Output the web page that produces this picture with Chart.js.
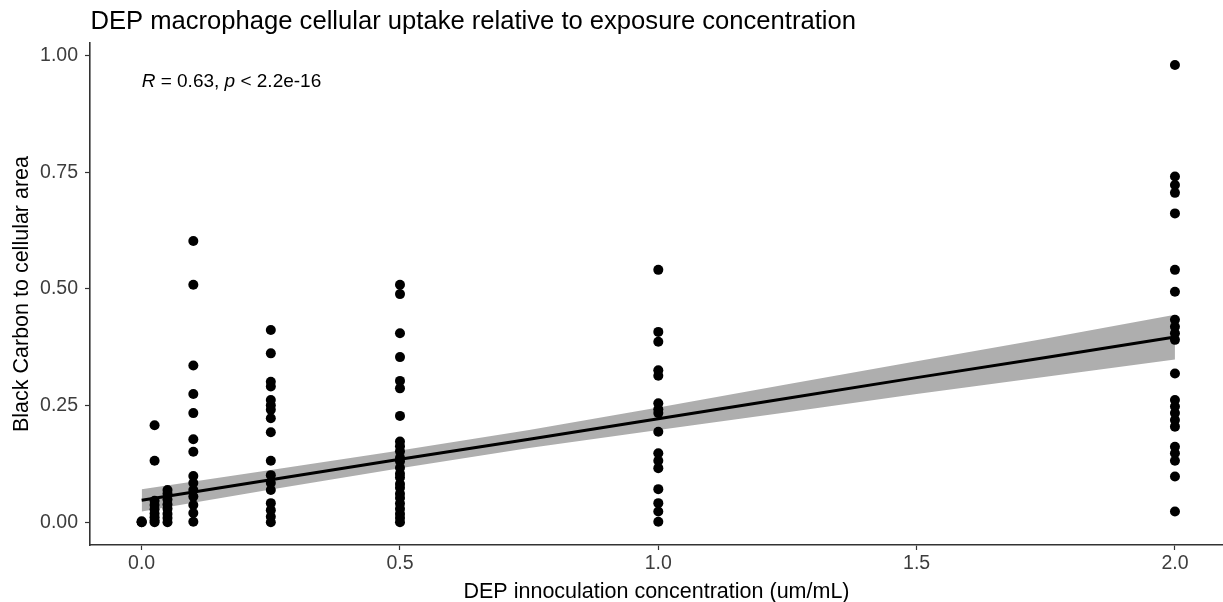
<!DOCTYPE html>
<html>
<head>
<meta charset="utf-8">
<script src="https://cdn.jsdelivr.net/npm/chart.js@4.4.1/dist/chart.umd.min.js"></script>
<style>
html,body{margin:0;padding:0;background:#fff;}
#wrap{width:1223px;height:602px;position:relative;}
</style>
</head>
<body>
<div id="wrap"><canvas id="c"></canvas></div>
<script>
// ---- text ----
const titleText = "DEP macrophage cellular uptake relative to exposure concentration";
const xAxisTitle = "DEP innoculation concentration (um/mL)";
const yAxisTitle = "Black Carbon to cellular area";
const annotationParts = [["R", true], [" = 0.63, ", false], ["p", true], [" < 2.2e-16", false]];
const annotationX = 0;
const annotationY = 0.932;

// ---- ticks ----
const xTickValues = [0, 0.5, 1.0, 1.5, 2.0];
const yTickValues = [0, 0.25, 0.5, 0.75, 1.0];

// ---- data: concentration levels and uptake per level ----
const concentrations = [0, 0.025, 0.05, 0.1, 0.25, 0.5, 1.0, 2.0];
const uptake_0     = [0, 0, 0.002];
const uptake_0025  = [0.208, 0.132, 0.046, 0.037, 0.028, 0.019, 0.011, 0.004, 0];
const uptake_005   = [0.069, 0.061, 0.049, 0.038, 0.029, 0.018, 0.009, 0];
const uptake_01    = [0.603, 0.509, 0.336, 0.275, 0.234, 0.178, 0.151, 0.099, 0.084, 0.069, 0.055, 0.037, 0.020, 0.001];
const uptake_025   = [0.412, 0.362, 0.301, 0.291, 0.262, 0.251, 0.241, 0.223, 0.193, 0.132, 0.101, 0.084, 0.069, 0.041, 0.026, 0.012, 0];
const uptake_05    = [0.509, 0.489, 0.405, 0.354, 0.303, 0.287, 0.228, 0.173, 0.163, 0.152, 0.138, 0.131, 0.117, 0.104, 0.096, 0.082, 0.074, 0.061, 0.052, 0.040, 0.029, 0.018, 0.009, 0];
const uptake_1     = [0.541, 0.408, 0.387, 0.326, 0.314, 0.255, 0.242, 0.234, 0.194, 0.148, 0.132, 0.116, 0.071, 0.041, 0.023, 0.001];
const uptake_2     = [0.980, 0.741, 0.723, 0.706, 0.662, 0.541, 0.494, 0.434, 0.419, 0.405, 0.391, 0.319, 0.262, 0.248, 0.234, 0.219, 0.205, 0.162, 0.148, 0.132, 0.098, 0.023];
const uptakeGroups = [uptake_0, uptake_0025, uptake_005, uptake_01, uptake_025, uptake_05, uptake_1, uptake_2];

// ---- linear fit and confidence band ----
const fitX      = [0, 0.25, 0.5, 0.75, 1.0, 1.25, 1.5, 1.75, 2.0];
const fitY      = [0.047, 0.091, 0.135, 0.178, 0.222, 0.266, 0.310, 0.353, 0.397];
const bandUpper = [0.071, 0.112, 0.154, 0.198, 0.246, 0.296, 0.345, 0.394, 0.445];
const bandLower = [0.023, 0.070, 0.116, 0.159, 0.198, 0.236, 0.275, 0.312, 0.349];

// ---- build ----
const FONT = "'Liberation Sans', Arial, Helvetica, sans-serif";
const points = [];
concentrations.forEach((c, i) => uptakeGroups[i].forEach(v => points.push({x: c, y: v})));
const toXY = (xs, ys) => xs.map((x, i) => ({x: x, y: ys[i]}));

const textPlugin = {
  id: 'texts',
  afterDraw(chart) {
    const ctx = chart.ctx;
    ctx.save();
    ctx.fillStyle = '#000';
    ctx.textBaseline = 'alphabetic';
    ctx.textAlign = 'left';
    ctx.font = "25.6px " + FONT;
    ctx.fillText(titleText, chart.chartArea.left + 0.5, 29);
    let x = chart.scales.x.getPixelForValue(annotationX);
    const y = chart.scales.y.getPixelForValue(annotationY);
    annotationParts.forEach(([t, it]) => {
      ctx.font = (it ? "italic " : "") + "19px " + FONT;
      ctx.fillText(t, x, y);
      x += ctx.measureText(t).width;
    });
    ctx.restore();
  }
};

new Chart(document.getElementById('c'), {
  data: {
    datasets: [
      { type: 'line', data: toXY(fitX, bandUpper), fill: '+1', backgroundColor: 'rgba(120,120,120,0.6)',
        borderWidth: 0, pointRadius: 0, order: 5 },
      { type: 'line', data: toXY(fitX, bandLower), fill: false, borderWidth: 0, pointRadius: 0, order: 4 },
      { type: 'scatter', data: points, pointRadius: 5, backgroundColor: '#000', borderWidth: 0, order: 3 },
      { type: 'line', data: toXY(fitX, fitY), borderColor: '#000', borderWidth: 3, pointRadius: 0, fill: false, order: 1 }
    ]
  },
  options: {
    responsive: true,
    maintainAspectRatio: false,
    animation: false,
    events: [],
    layout: { autoPadding: false, padding: { top: 43, right: 0, left: 0, bottom: 0 } },
    plugins: { legend: { display: false }, tooltip: { enabled: false }, title: { display: false } },
    scales: {
      x: {
        type: 'linear', min: -0.1, max: 2.093,
        afterBuildTicks: s => { s.ticks = xTickValues.map(v => ({value: v})); },
        afterFit: s => { s.height = 57; s.paddingLeft = 0; s.paddingRight = 0; },
        ticks: { callback: v => Number(v).toFixed(1), font: { family: FONT, size: 19.5 }, color: '#3d3d3d', padding: 2, maxRotation: 0, autoSkip: false },
        grid: { display: true, drawOnChartArea: false, drawTicks: true, tickLength: 5, tickColor: '#333', tickWidth: 1.2 },
        border: { display: true, color: '#333', width: 1.6 },
        title: { display: true, text: xAxisTitle, font: { family: FONT, size: 21.5 }, color: '#000', padding: { top: 0, bottom: -3 } }
      },
      y: {
        type: 'linear', min: -0.0487, max: 1.0272,
        afterBuildTicks: s => { s.ticks = yTickValues.map(v => ({value: v})); },
        afterFit: s => { s.width = 90; s.paddingTop = 0; s.paddingBottom = 0; },
        ticks: { callback: v => Number(v).toFixed(2), font: { family: FONT, size: 19.5 }, color: '#3d3d3d', padding: 7, autoSkip: false },
        grid: { display: true, drawOnChartArea: false, drawTicks: true, tickLength: 5, tickColor: '#333', tickWidth: 1.2 },
        border: { display: true, color: '#333', width: 1.6 },
        title: { display: true, text: yAxisTitle, font: { family: FONT, size: 21.5 }, color: '#000', padding: { top: 9, bottom: 0 } }
      }
    }
  },
  plugins: [textPlugin]
});
</script>
</body>
</html>
